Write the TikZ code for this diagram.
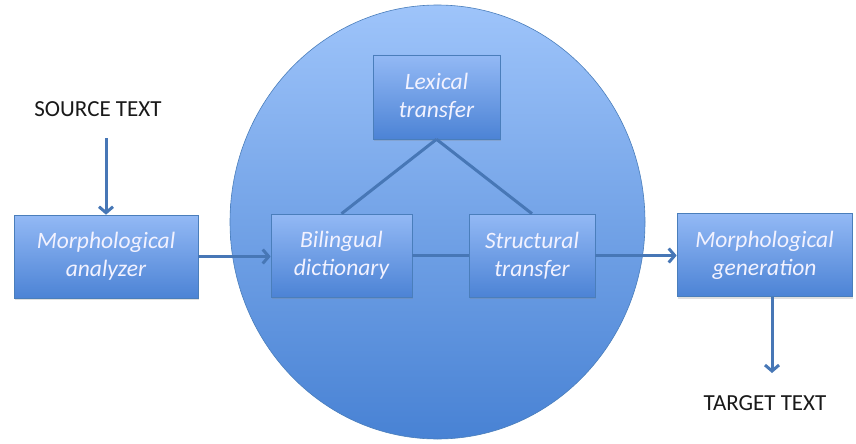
\documentclass[tikz,border=0pt]{standalone}
\usepackage{fontspec}
\setmainfont{Carlito}
\usetikzlibrary{arrows.meta,shadows}
\definecolor{boxtop}{HTML}{93B9F5}
\definecolor{boxbot}{HTML}{4C83D5}
\definecolor{circtop}{HTML}{9EC4FA}
\definecolor{circbot}{HTML}{4882D4}
\definecolor{edgec}{HTML}{4A7EBB}
\definecolor{linec}{HTML}{4777B6}
\begin{document}
\begin{tikzpicture}[x=1pt,y=-1pt,
  stepbox/.style={draw=edgec, line width=0.6pt, top color=boxtop, bottom color=boxbot,
    font=\fontsize{23.5}{28}\selectfont\itshape, text=white!95!blue, align=center, inner sep=0pt,
    minimum height=83pt,
    drop shadow={shadow xshift=1pt, shadow yshift=-2pt, opacity=0.25}},
  plain/.style={font=\fontsize{23}{26}\selectfont, text=black!90},
  conn/.style={draw=linec, line width=3pt},
  arr/.style={conn, -{Straight Barb[length=6pt,width=14pt]}}
]
\useasboundingbox (0,0) rectangle (856,444);
% big circle
\shade[top color=circtop, bottom color=circbot, draw=edgec, line width=0.6pt]
  (437.5,222) ellipse [x radius=207.5pt, y radius=217pt];
% boxes
\node[stepbox, minimum width=184pt] (ana) at (106,256.5) {Morphological\\analyzer};
\node[stepbox, minimum width=141pt] (bil) at (341.5,255.5) {Bilingual\\dictionary};
\node[stepbox, minimum width=126pt] (str) at (532,255.5) {Structural\\transfer};
\node[stepbox, minimum width=127pt, minimum height=84pt] (lex) at (436.5,97) {Lexical\\transfer};
\node[stepbox, minimum width=175pt] (gen) at (764.5,255) {Morphological\\generation};
% plain labels
\node[plain] (src) at (98,109) {SOURCE TEXT};
\node[plain] (tgt) at (765,403) {TARGET TEXT};
\coordinate (srcend) at (106,138);
\coordinate (tgtend) at (772,373);
% connectors
\draw[arr] (srcend) -- (srcend |- ana.north);
\draw[arr] (ana.east) -- (ana.east -| bil.west);
\draw[conn] (bil.east) -- (bil.east -| str.west);
\draw[arr] (str.east) -- (str.east -| gen.west);
\draw[conn] (lex.south) -- (bil.north);
\draw[conn] (lex.south) -- (str.north);
\draw[arr] (gen.south -| tgtend) -- (tgtend);
\end{tikzpicture}
\end{document}
